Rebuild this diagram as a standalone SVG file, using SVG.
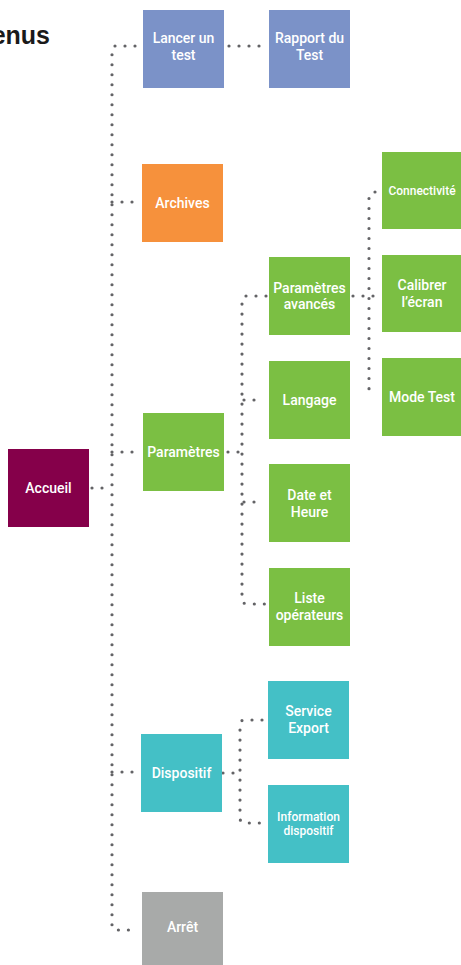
<svg xmlns="http://www.w3.org/2000/svg" width="461" height="965" viewBox="0 0 461 965">
<style>
.t{font-family:Roboto,"Liberation Sans",sans-serif;font-size:14px;font-weight:500;fill:#ffffff;text-anchor:middle}
.s{font-size:12px}
.c{fill:none;stroke:#636366;stroke-width:3.2;stroke-linecap:round;stroke-dasharray:0 10}
.blue{fill:#7b92c8}.orange{fill:#f6913c}.green{fill:#7bbf43}.maroon{fill:#85004a}.teal{fill:#44c0c6}.gray{fill:#a8aaa9}
</style>
<rect width="461" height="965" fill="#ffffff"/>
<text x="50" y="44" font-family="'Liberation Sans',Arial,sans-serif" font-size="25" font-weight="bold" fill="#1a1a1a" text-anchor="end">enus</text>
<g id="connectors">
<path class="c" d="M135,46 H115 Q112,46 112,52 V926 Q112,930 116,930 H136"/>
<path class="c" d="M112,202 H136"/>
<path class="c" d="M112,452 H137"/>
<path class="c" d="M92,488 H112"/>
<path class="c" d="M112,772 H136"/>
<path class="c" d="M229,46 H264"/>
<path class="c" d="M228,452 H242"/>
<path class="c" d="M266,296 H246 Q242,296 242,302 V599 Q242,604 248,604 H266"/>
<path class="c" d="M244,400 H264"/>
<path class="c" d="M244,502 H264"/>
<path class="c" d="M353,296 H381"/>
<path class="c" d="M375,192 Q369,192 369,198 V388 Q369,393 374,393"/>
<path class="c" d="M223,773 H240"/>
<path class="c" d="M262,720 H244 Q240,720 240,726 V818 Q240,823 246,823 H267"/>
</g>
<g id="accueil"><rect class="maroon" x="8" y="449" width="81" height="78"/><text class="t" x="48.5" y="493">Accueil</text></g>
<g id="lancer"><rect class="blue" x="143" y="10" width="81" height="78"/><text class="t" x="183.5" y="43">Lancer un</text><text class="t" x="183.5" y="60">test</text></g>
<g id="rapport"><rect class="blue" x="269" y="10" width="81" height="78"/><text class="t" x="309.5" y="43">Rapport du</text><text class="t" x="309.5" y="60">Test</text></g>
<g id="archives"><rect class="orange" x="142" y="164" width="81" height="78"/><text class="t" x="182.5" y="208">Archives</text></g>
<g id="parametres"><rect class="green" x="143" y="413" width="81" height="78"/><text class="t" x="183.5" y="457">Paramètres</text></g>
<g id="avances"><rect class="green" x="269" y="257" width="81" height="78"/><text class="t" x="309.5" y="293">Paramètres</text><text class="t" x="309.5" y="309">avancés</text></g>
<g id="langage"><rect class="green" x="269" y="361" width="81" height="78"/><text class="t" x="309.5" y="405">Langage</text></g>
<g id="date"><rect class="green" x="269" y="464" width="81" height="78"/><text class="t" x="309.5" y="500">Date et</text><text class="t" x="309.5" y="517">Heure</text></g>
<g id="liste"><rect class="green" x="269" y="568" width="81" height="78"/><text class="t" x="309.5" y="603">Liste</text><text class="t" x="309.5" y="620">opérateurs</text></g>
<g id="connectivite"><rect class="green" x="382" y="152" width="80" height="77"/><text class="t s" x="422" y="195">Connectivité</text></g>
<g id="calibrer"><rect class="green" x="382" y="255" width="80" height="77"/><text class="t" x="422" y="290">Calibrer</text><text class="t" x="422" y="307">l’écran</text></g>
<g id="modetest"><rect class="green" x="382" y="358" width="80" height="78"/><text class="t" x="422" y="402">Mode Test</text></g>
<g id="dispositif"><rect class="teal" x="141" y="734" width="81" height="78"/><text class="t" x="181.5" y="777.5">Dispositif</text></g>
<g id="service"><rect class="teal" x="268" y="681" width="81" height="78"/><text class="t" x="308.5" y="716">Service</text><text class="t" x="308.5" y="733">Export</text></g>
<g id="information"><rect class="teal" x="268" y="785" width="81" height="78"/><text class="t s" x="308.5" y="821">Information</text><text class="t s" x="308.5" y="834.5">dispositif</text></g>
<g id="arret"><rect class="gray" x="142" y="892" width="81" height="80"/><text class="t" x="182.5" y="932">Arrêt</text></g>
</svg>
